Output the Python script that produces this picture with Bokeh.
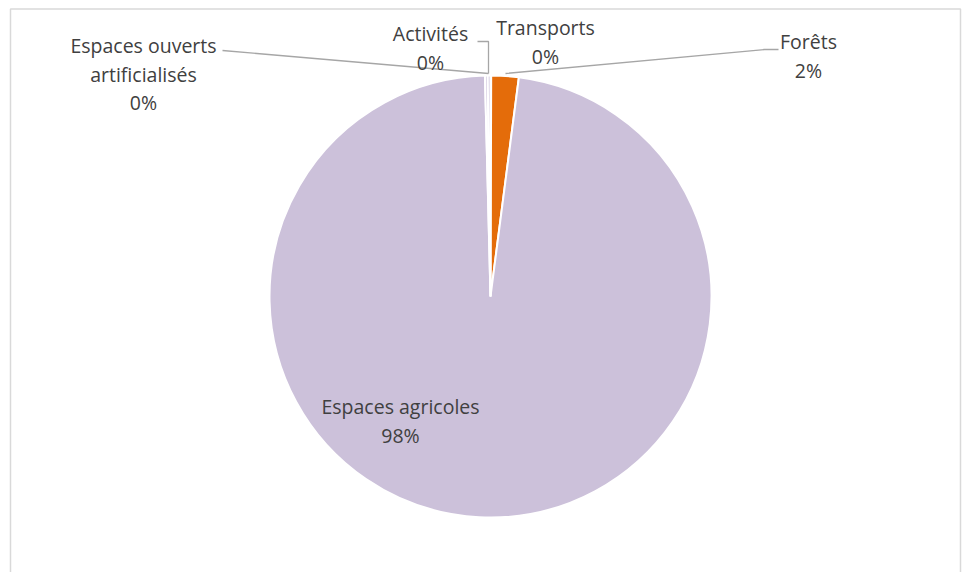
import math
from bokeh.plotting import figure
from bokeh.models import Range1d, ColumnDataSource
from bokeh.core.properties import value
from bokeh.embed import file_html
from bokeh.resources import INLINE

# ---- data (clockwise from 12 o'clock) ----
categories = ["Transports", "Forêts", "Espaces agricoles", "Espaces ouverts artificialisés", "Activités"]
shares = [0.05, 2.0, 97.55, 0.2, 0.2]
colors = ["#E46C0A", "#E46C0A", "#CCC1DA", "#CCC1DA", "#CCC1DA"]

label_lines = {
    "Transports": ["Transports"],
    "Forêts": ["Forêts"],
    "Espaces agricoles": ["Espaces agricoles"],
    "Espaces ouverts artificialisés": ["Espaces ouverts", "artificialisés"],
    "Activités": ["Activités"],
}

# ---- layout (reference pixel coordinates) ----
W, H = 962, 572
def X(px): return px
def Y(py): return H - py

CX, CY, R = X(490), Y(296), 221
label_anchor = {  # centre x, first-line y
    "Transports": (545, 27),
    "Forêts": (808, 41),
    "Espaces agricoles": (400, 406),
    "Espaces ouverts artificialisés": (143, 45),
    "Activités": (430, 33),
}
LINE_H = 28.5
leaders = {
    "Espaces ouverts artificialisés": [(222, 50), (488, 73)],
    "Activités": [(477, 41), (488, 41), (488, 73)],
    "Forêts": [(505, 73), (764, 49), (778, 49)],
}

p = figure(width=W, height=H, output_backend="svg", toolbar_location=None,
           x_range=Range1d(0, W), y_range=Range1d(0, H),
           min_border=0, outline_line_color=None)
p.axis.visible = False
p.grid.visible = False
p.background_fill_color = "white"
p.border_fill_color = "white"

total = sum(shares)
starts, ends = [], []
c = 0.0
for s in shares:
    starts.append(math.pi / 2 - 2 * math.pi * c / total)
    c += s
    ends.append(math.pi / 2 - 2 * math.pi * c / total)
src = ColumnDataSource(dict(start=starts, end=ends, color=colors))
p.wedge(x=CX, y=CY, radius=R, start_angle="start", end_angle="end",
        direction="clock", fill_color="color", line_color="white",
        line_width=2, source=src)

for cat, pts in leaders.items():
    p.line([X(a) for a, b in pts], [Y(b) for a, b in pts],
           line_color="#A6A6A6", line_width=1.3)

tx, ty, tt = [], [], []
for cat, s in zip(categories, shares):
    ax, ay = label_anchor[cat]
    lines = label_lines[cat] + [f"{round(s)}%"]
    for i, t in enumerate(lines):
        tx.append(X(ax)); ty.append(Y(ay + i * LINE_H)); tt.append(t)
p.text(x=tx, y=ty, text=tt, text_align="center", text_baseline="middle",
       text_font=value("Open Sans"), text_font_size="19.5px", text_color="#404040")

# chart border (left, top, right)
p.line([X(10), X(10), X(960), X(960)], [Y(640), Y(8.5), Y(8.5), Y(640)],
       line_color="#D9D9D9", line_width=1.5)

open("out.html", "w").write(file_html(p, INLINE))
